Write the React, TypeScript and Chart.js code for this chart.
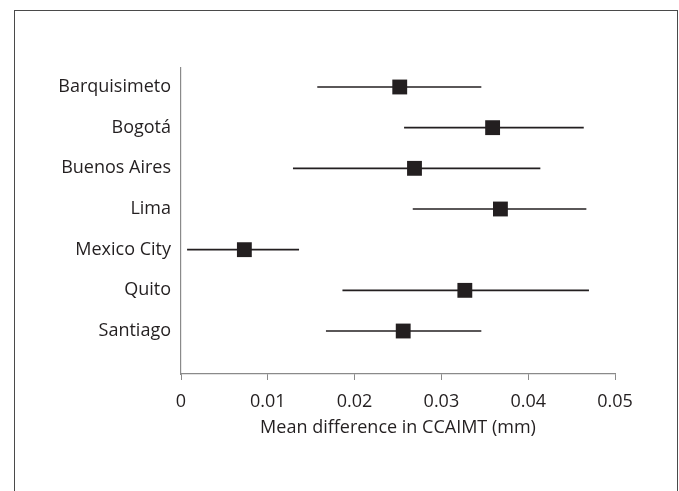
import React, { useEffect, useRef } from "react";
import { Chart, registerables } from "chart.js";

Chart.register(...registerables);

const cities = ["Barquisimeto", "Bogotá", "Buenos Aires", "Lima", "Mexico City", "Quito", "Santiago"];
const means = [0.0252, 0.0359, 0.0269, 0.0368, 0.0073, 0.0327, 0.0256];
const lowers = [0.0157, 0.0257, 0.0129, 0.0267, 0.0007, 0.0186, 0.0167];
const uppers = [0.0346, 0.0464, 0.0414, 0.0467, 0.0136, 0.0470, 0.0346];
const xTicks = [0, 0.01, 0.02, 0.03, 0.04, 0.05];
const xTickLabels = ["0", "0.01", "0.02", "0.03", "0.04", "0.05"];
const xTitle = "Mean difference in CCAIMT (mm)";

const FONT = "'Open Sans', sans-serif";
const INK = "#231f20";
const AXIS = "#8a8a8a";

export default function App() {
  const ref = useRef<HTMLCanvasElement | null>(null);

  useEffect(() => {
    if (!ref.current) return;
    const ciSets = cities.map((c, i) => ({
      type: "line" as const,
      label: c + " CI",
      data: [
        { x: lowers[i], y: i + 1 },
        { x: uppers[i], y: i + 1 },
      ],
      borderColor: INK,
      borderWidth: 1.6,
      pointRadius: 0,
      showLine: true,
      order: 2,
    }));
    const chart = new Chart(ref.current, {
      type: "scatter",
      data: {
        datasets: [
          ...ciSets,
          {
            type: "scatter" as const,
            label: "Mean",
            data: means.map((m, i) => ({ x: m, y: i + 1 })),
            pointStyle: "rect",
            pointRadius: 10.5,
            pointHoverRadius: 10.5,
            backgroundColor: INK,
            borderColor: INK,
            borderWidth: 0,
            order: 1,
          },
        ] as any,
      },
      options: {
        animation: false,
        responsive: false,
        maintainAspectRatio: false,
        layout: { padding: { left: 0, top: 68, right: 64, bottom: 0 } },
        plugins: {
          legend: { display: false },
          tooltip: { enabled: false },
        },
        scales: {
          x: {
            type: "linear",
            min: 0,
            max: 0.05,
            afterBuildTicks: (s: any) => {
              s.ticks = xTicks.map((v) => ({ value: v }));
            },
            afterFit: (s: any) => {
              s.height = 491 - 374;
            },
            grid: {
              display: true,
              drawOnChartArea: false,
              drawTicks: true,
              tickLength: 6,
              color: AXIS,
              lineWidth: 1,
            },
            border: { display: true, color: AXIS, width: 1.2 },
            ticks: {
              color: INK,
              font: { family: FONT, size: 18 },
              padding: 11,
              maxRotation: 0,
              callback: (v: any) => {
                const idx = xTicks.findIndex((t) => Math.abs(t - Number(v)) < 1e-9);
                return idx >= 0 ? xTickLabels[idx] : "";
              },
            },
            title: {
              display: true,
              text: xTitle,
              color: INK,
              font: { family: FONT, size: 18 },
              padding: { top: 2, bottom: 52 },
            },
          },
          y: {
            type: "linear",
            reverse: true,
            min: 0.533,
            max: 8.057,
            afterBuildTicks: (s: any) => {
              s.ticks = cities.map((_, i) => ({ value: i + 1 }));
            },
            afterFit: (s: any) => {
              s.width = 181;
            },
            grid: {
              display: true,
              drawOnChartArea: false,
              drawTicks: false,
              tickLength: 0,
            },
            border: { display: true, color: AXIS, width: 1.2 },
            ticks: {
              color: INK,
              font: { family: FONT, size: 18 },
              padding: 10,
              callback: (v: any) => {
                const i = Math.round(Number(v)) - 1;
                return cities[i] ?? "";
              },
            },
          },
        },
      },
    });
    return () => chart.destroy();
  }, []);

  return (
    <div style={{ position: "fixed", left: 0, top: 0, width: 679, height: 491, overflow: "hidden", background: "#fff" }}>
      <div
        style={{
          position: "absolute",
          left: 14,
          top: 10,
          width: 664,
          height: 700,
          border: "1.5px solid #4a4a4a",
          boxSizing: "border-box",
        }}
      />
      <canvas ref={ref} width={679} height={491} style={{ position: "absolute", left: 0, top: 0, width: 679, height: 491 }} />
    </div>
  );
}
